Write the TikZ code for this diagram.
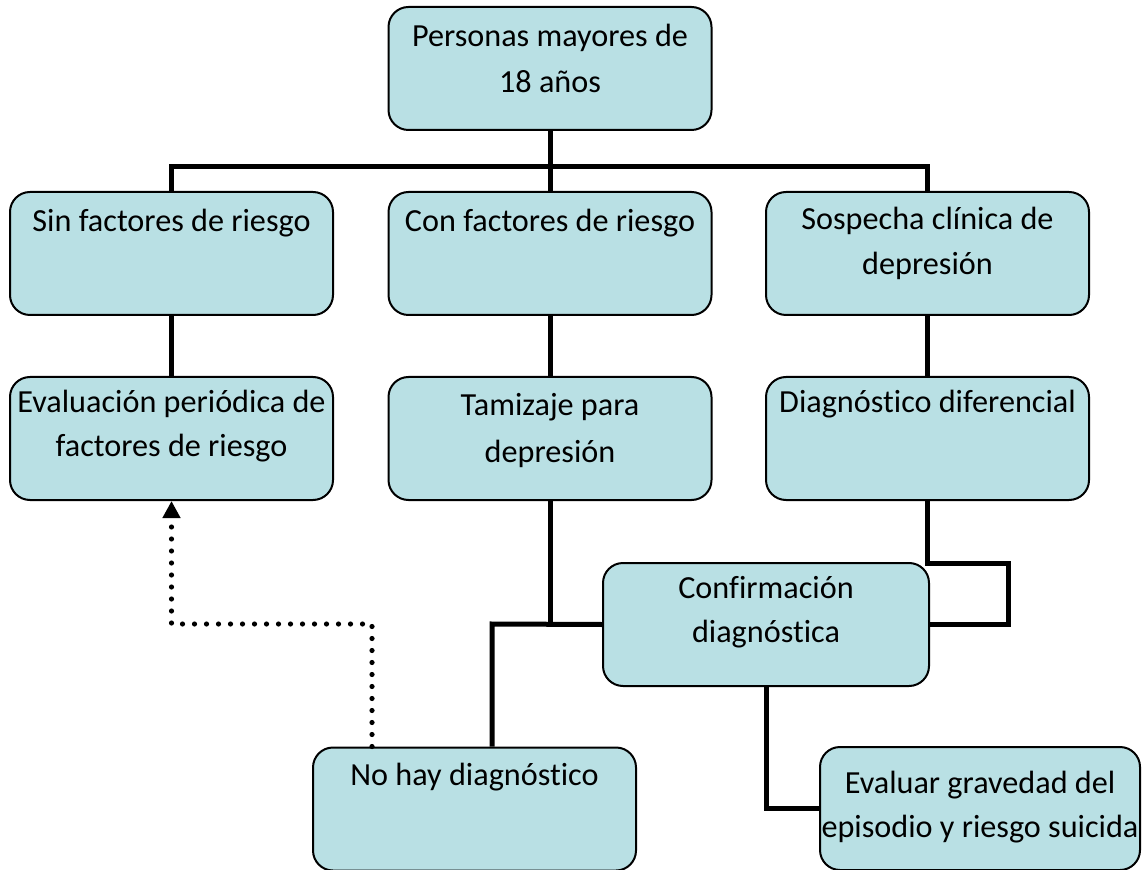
\documentclass[tikz,border=0pt]{standalone}
\usepackage{fontspec}
\setmainfont{Carlito}[Ligatures=CommonOff]
\usetikzlibrary{arrows.meta}
\definecolor{boxfill}{RGB}{185,224,228}
\begin{document}
\begin{tikzpicture}[x=0.5pt,y=-0.5pt,
  box/.style={draw=black, line width=1pt, fill=boxfill, rounded corners=10pt,
    minimum width=161.5pt, minimum height=61.5pt, inner sep=0pt},
  lbl/.style={anchor=base, text width=170pt, align=flush center, inner sep=0pt,
    font=\fontsize{16.1pt}{22pt}\selectfont},
  link/.style={line width=2.5pt},
  back/.style={line width=2.6pt, line cap=round, dash pattern=on 0pt off 6pt,
    -{Triangle[width=8.5pt,length=8.5pt]}}]
\useasboundingbox (0,0) rectangle (1143,870);

% boxes
\node[box] (top) at (550,68.5) {};
\node[box] (sin) at (171.5,253.5) {};
\node[box] (con) at (550,253.5) {};
\node[box] (sos) at (927.5,253.5) {};
\node[box] (eva) at (171.5,438.5) {};
\node[box] (tam) at (550,438.5) {};
\node[box] (dif) at (927.5,438.5) {};
\node[box, minimum width=163pt] (conf) at (766,624.5) {};
\node[box] (nohay) at (474.5,809) {};
\node[box, minimum width=160pt] (grav) at (980,808.5) {};

% texts
\node[lbl] (ttop) at (550,47) {Personas mayores de\\[1pt]18 años};
\node[lbl] (tsin) at (171.5,232) {Sin factores de riesgo};
\node[lbl] (tcon) at (550,232) {Con factores de riesgo};
\node[lbl] (tsos) at (927.5,230) {Sospecha clínica de\\[0.5pt]depresión};
\node[lbl] (teva) at (171.5,413) {Evaluación periódica de\\factores de riesgo};
\node[lbl] (ttam) at (550,416) {Tamizaje para\\[1.5pt]depresión};
\node[lbl] (tdif) at (927.5,413) {Diagnóstico diferencial};
\node[lbl] (tconf) at (766,598) {Confirmación\\diagnóstica};
\node[lbl] (tnohay) at (474.5,785) {No hay diagnóstico};
\node[lbl] (tgrav) at (980,793) {Evaluar gravedad del\\episodio y riesgo suicida};

% connectors
\coordinate (bar) at (550,167);
\coordinate (j1) at (492,624);
\coordinate (j2) at (1008,563);
\coordinate (d1) at (372,624);

\draw[link] (top.south) -- (con.north);
\draw[link] (sin.north) -- (sin.north |- bar) -- (sos.north |- bar) -- (sos.north);
\draw[link] (sin.south) -- (eva.north);
\draw[link] (con.south) -- (tam.north);
\draw[link] (sos.south) -- (dif.north);
\draw[link] (tam.south) -- (tam.south |- conf.west);
\draw[link] (conf.west) -- (j1) -- (j1 |- nohay.north);
\draw[link] (dif.south) -- (dif.south |- j2) -- (j2) -- (j2 |- conf.east) -- (conf.east);
\draw[link] (conf.south) |- (grav.west);
\draw[back] (d1 |- nohay.north) -- (d1) -- (d1 -| eva.south) -- (eva.south);
\end{tikzpicture}
\end{document}
